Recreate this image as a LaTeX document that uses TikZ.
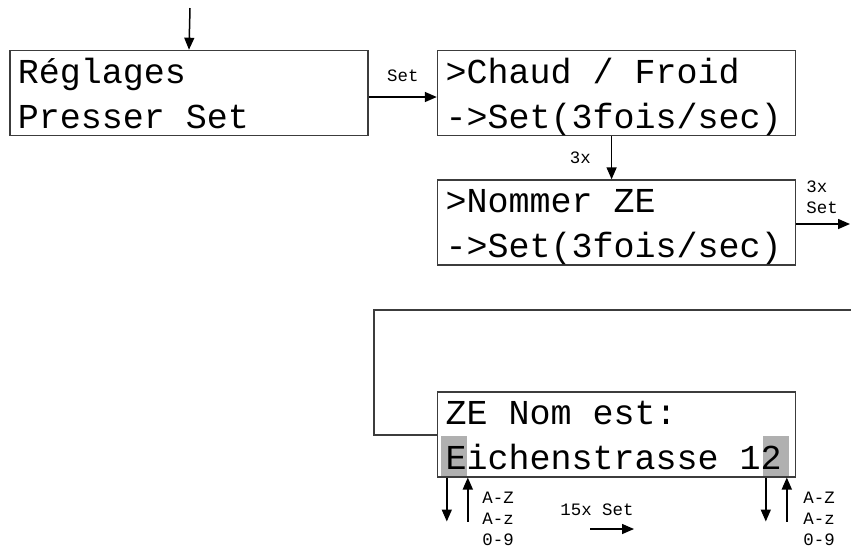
\documentclass[tikz,border=0pt]{standalone}
\usepackage{fontspec}
\setmonofont{Liberation Mono}
\usetikzlibrary{positioning,calc,arrows.meta,backgrounds}
\definecolor{hlgray}{RGB}{176,176,176}
\definecolor{framegray}{RGB}{60,60,60}
\newcommand\fixedspaces{\spaceskip 0.6em\relax}

\begin{document}
\begin{tikzpicture}[
    x=0.5pt, y=-0.5pt,
    lcd/.style={rectangle, draw=framegray, line width=0.8pt, minimum width=179pt, minimum height=42.5pt, text width=171pt, text height=16pt, text depth=26pt, inner xsep=4pt, inner ysep=0pt, font=\ttfamily\fontsize{17.5}{22.5}\selectfont, execute at begin node=\fixedspaces},
    tag/.style={inner sep=0pt, font=\ttfamily\fontsize{8.7}{10.5}\selectfont, execute at begin node=\fixedspaces},
    arrow/.style={-{Triangle[length=6pt,width=5pt]}, line width=0.75pt},
    wire/.style={draw=framegray, line width=0.75pt}
]
    \useasboundingbox (0,0) rectangle (851,548);

    % display screens
    \node[lcd] (regl) at (189,93) {Réglages\\Presser Set};
    \node[lcd, right=34pt of regl] (chaud) {>Chaud / Froid\\->Set(3fois/sec)};
    \node[lcd, below=21.5pt of chaud] (nommer) {>Nommer ZE\\->Set(3fois/sec)};
    \node[lcd, below=62.5pt of nommer] (ze) {ZE Nom est:\\Eichenstrasse 12};

    % cursor marks
    \begin{scope}[on background layer]
        \fill[hlgray] ($(ze.south west)+(4,0)$) rectangle ++(26,-42);
        \fill[hlgray] ($(ze.south west)+(326,0)$) rectangle ++(26,-42);
    \end{scope}

    \coordinate (entry) at (190,8);
    \coordinate (exit) at (850,224);
    \coordinate (loopin) at (851,310);
    \coordinate (back) at (374,435);

    \draw[arrow] (entry) -- (regl.north);
    \draw[arrow] ([yshift=-2pt]regl.east) -- node[tag, above=7.5pt] (setlbl) {Set} ([yshift=-2pt]chaud.west);
    \draw[arrow] ([xshift=-2.5pt]chaud.south) -- node[tag, left=10pt] (threelbl) {3x} ([xshift=-2.5pt]nommer.north);
    \draw[arrow] (nommer.east |- exit) -- (exit);
    \node[tag, align=left, anchor=north west] (exitlbl) at (806,180) {3x\\Set};
    \draw[wire] (loopin) -| (back) -- (back -| ze.west);

    % character selection below the screen
    \coordinate (edown) at ($(ze.south west)+(10,44)$);
    \coordinate (eup) at ($(ze.south west)+(31,44)$);
    \coordinate (twodown) at ($(ze.south west)+(329,44)$);
    \coordinate (twoup) at ($(ze.south west)+(350,44)$);
    \draw[arrow] (ze.south -| edown) -- (edown);
    \draw[arrow] (eup) -- (ze.south -| eup);
    \draw[arrow] (ze.south -| twodown) -- (twodown);
    \draw[arrow] (twoup) -- (ze.south -| twoup);
    \node[tag, align=left, anchor=north west] (echars) at (482,492) {A-Z\\A-z\\0-9};
    \node[tag, align=left, anchor=north west] (twochars) at (803,492) {A-Z\\A-z\\0-9};

    \node[tag, anchor=base west] (steps) at (560,515) {15x Set};
    \coordinate (stepa) at (590,529);
    \coordinate (stepb) at (634,529);
    \draw[arrow] (stepa) -- (stepb);
\end{tikzpicture}
\end{document}
